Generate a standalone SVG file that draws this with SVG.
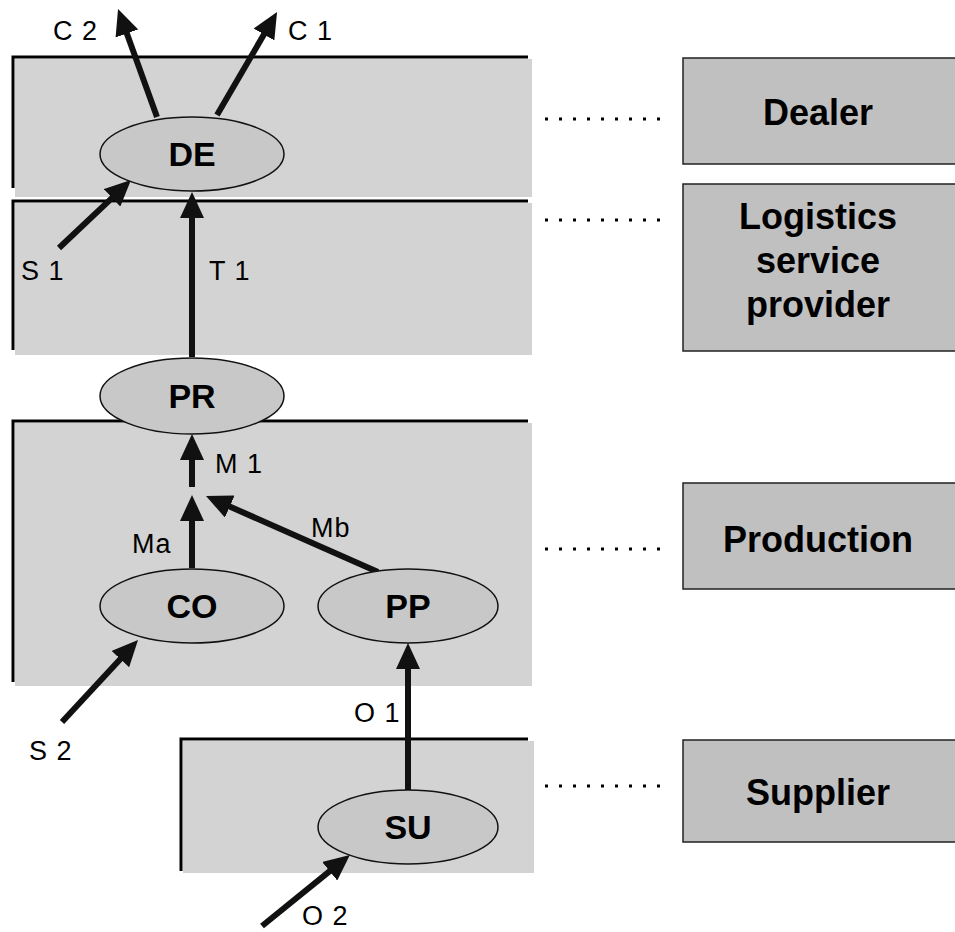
<svg xmlns="http://www.w3.org/2000/svg" width="955" height="932" viewBox="0 0 955 932">
<style>
.band{fill:#d3d3d3}
.edge{stroke:#000;stroke-width:3;fill:none}
.box{fill:#c0c0c0;stroke:#222;stroke-width:1.5}
.dots{stroke:#000;stroke-width:3;stroke-dasharray:3 11;fill:none}
.node{fill:#c8c8c8;stroke:#111;stroke-width:1.5}
.nl{font-family:"Liberation Sans",Arial,sans-serif;font-weight:bold;font-size:34px;text-anchor:middle;fill:#000}
.bl{font-family:"Liberation Sans",Arial,sans-serif;font-weight:bold;font-size:36px;text-anchor:middle;fill:#000}
.el{font-family:"Liberation Sans",Arial,sans-serif;font-size:27px;fill:#000;letter-spacing:1px}
.arr{stroke:#111;stroke-width:6;fill:none;marker-end:url(#ah)}
</style>
<defs>
<marker id="ah" viewBox="0 0 26 24" refX="12" refY="12" markerWidth="26" markerHeight="24" markerUnits="userSpaceOnUse" orient="auto">
<path d="M0,0 L26,12 L0,24 z" fill="#111"/>
</marker>
</defs>
<rect width="955" height="932" fill="#fff"/>
<g id="band-dealer">
<rect class="band" x="15" y="59" width="517" height="138"/>
<path class="edge" d="M13,188 V57 H528"/>
</g>
<g id="band-logistics">
<rect class="band" x="15" y="203" width="517" height="152"/>
<path class="edge" d="M13,350 V201 H528"/>
</g>
<g id="band-production">
<rect class="band" x="15" y="423" width="517" height="263"/>
<path class="edge" d="M13,682 V421 H528"/>
</g>
<g id="band-supplier">
<rect class="band" x="183" y="741" width="351" height="132"/>
<path class="edge" d="M181,871 V739 H528"/>
</g>
<g id="dotted">
<line class="dots" x1="545" y1="119" x2="660" y2="119"/>
<line class="dots" x1="545" y1="220" x2="660" y2="220"/>
<line class="dots" x1="545" y1="549" x2="660" y2="549"/>
<line class="dots" x1="545" y1="786" x2="660" y2="786"/>
</g>
<g id="label-dealer">
<rect class="box" x="683" y="58" width="290" height="106"/>
<text class="bl" x="818" y="125">Dealer</text>
</g>
<g id="label-logistics">
<rect class="box" x="683" y="184" width="290" height="167"/>
<text class="bl" x="818" y="229">Logistics</text>
<text class="bl" x="818" y="273">service</text>
<text class="bl" x="818" y="317">provider</text>
</g>
<g id="label-production">
<rect class="box" x="683" y="483" width="290" height="106"/>
<text class="bl" x="818" y="552">Production</text>
</g>
<g id="label-supplier">
<rect class="box" x="683" y="740" width="290" height="102"/>
<text class="bl" x="818" y="805">Supplier</text>
</g>
<g id="connectors">
<line class="arr" x1="157" y1="117" x2="122.8" y2="22.2"/>
<line class="arr" x1="217" y1="115" x2="270" y2="24.1"/>
<line class="arr" x1="59" y1="248" x2="120.8" y2="189.6"/>
<line class="arr" x1="192" y1="357" x2="192" y2="206"/>
<line class="arr" x1="192" y1="487" x2="192" y2="448"/>
<line class="arr" x1="192" y1="568" x2="192" y2="509"/>
<line class="arr" x1="378" y1="572" x2="218.8" y2="501.7"/>
<line class="arr" x1="62" y1="722" x2="128.5" y2="650.3"/>
<line class="arr" x1="408" y1="790" x2="408" y2="657"/>
<line class="arr" x1="262" y1="926" x2="339" y2="863.7"/>
<text class="el" x="53" y="40">C 2</text>
<text class="el" x="288" y="40">C 1</text>
<text class="el" x="21" y="280">S 1</text>
<text class="el" x="209" y="280">T 1</text>
<text class="el" x="215" y="473">M 1</text>
<text class="el" x="132" y="553">Ma</text>
<text class="el" x="311" y="537">Mb</text>
<text class="el" x="29" y="760">S 2</text>
<text class="el" x="354" y="722">O 1</text>
<text class="el" x="302" y="925">O 2</text>
</g>
<g id="node-DE">
<ellipse class="node" cx="192" cy="154" rx="92" ry="37"/>
<text class="nl" x="192" y="166">DE</text>
</g>
<g id="node-PR">
<ellipse class="node" cx="192" cy="396" rx="92" ry="38"/>
<text class="nl" x="192" y="408">PR</text>
</g>
<g id="node-CO">
<ellipse class="node" cx="192" cy="606" rx="92" ry="37"/>
<text class="nl" x="192" y="618">CO</text>
</g>
<g id="node-PP">
<ellipse class="node" cx="408" cy="606" rx="90" ry="37"/>
<text class="nl" x="408" y="618">PP</text>
</g>
<g id="node-SU">
<ellipse class="node" cx="408" cy="827" rx="90" ry="37"/>
<text class="nl" x="408" y="839">SU</text>
</g>
</svg>
